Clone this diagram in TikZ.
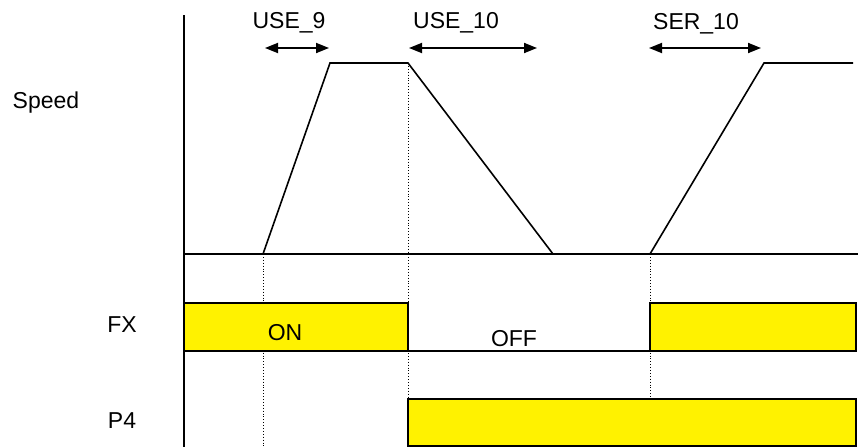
\documentclass[tikz,border=0pt]{standalone}
\usepackage{fontspec}
\setmainfont{Liberation Sans}
\usetikzlibrary{arrows.meta}
\begin{document}
\begin{tikzpicture}[x=1pt,y=-1pt,line width=1.6pt,
  lbl/.style={font=\fontsize{23}{26}\selectfont,inner sep=0pt,anchor=base},
  guide/.style={dotted,line width=0.9pt},
  state/.style={draw=black,fill=yellow,line width=1.6pt},
  span/.style={{Triangle[length=13pt,width=10pt]}-{Triangle[length=13pt,width=10pt]},line width=1.8pt}]
\useasboundingbox (0,0) rectangle (863,447);
% axes
\coordinate (axT) at (184,15);
\coordinate (axB) at (184,447);
\coordinate (b0) at (184,254);
\coordinate (b1) at (858,254);
% speed profile points
\coordinate (s1) at (263,254);
\coordinate (s2) at (330,63);
\coordinate (s3) at (408,63);
\coordinate (s4) at (553,254);
\coordinate (s5) at (650,254);
\coordinate (s6) at (764,63);
\coordinate (s7) at (853,63);
% guides
\draw[guide] (s1) -- (263,447);
\draw[guide] (s3) -- (408,399);
\draw[guide] (s5) -- (650,399);
% FX / P4 states
\draw[state] (184,303) rectangle (408,351);
\draw (408,351) -- (650,351);
\draw[state] (650,303) rectangle (856,351);
\draw[state] (408,399) rectangle (856,446.2);
% axes lines
\draw (axT) -- (axB);
\draw (b0) -- (b1);
\draw (s1) -- (s2) -- (s3) -- (s4);
\draw (s5) -- (s6) -- (s7);
% spans
\coordinate (a1) at (265,48); \coordinate (a2) at (329,48);
\coordinate (a3) at (409,48); \coordinate (a4) at (537,48);
\coordinate (a5) at (649,48); \coordinate (a6) at (761,48);
\draw[span] (a1) -- (a2);
\draw[span] (a3) -- (a4);
\draw[span] (a5) -- (a6);
% labels
\node[lbl] (use9) at (289,28) {USE\_9};
\node[lbl] (use10) at (456,28) {USE\_10};
\node[lbl] (ser10) at (696,29) {SER\_10};
\node[lbl] (speed) at (46,108) {Speed};
\node[lbl] (fx) at (122,332) {FX};
\node[lbl] (p4) at (122,428) {P4};
\node[lbl] (on) at (285,340) {ON};
\node[lbl] (off) at (514,346) {OFF};
\end{tikzpicture}
\end{document}
